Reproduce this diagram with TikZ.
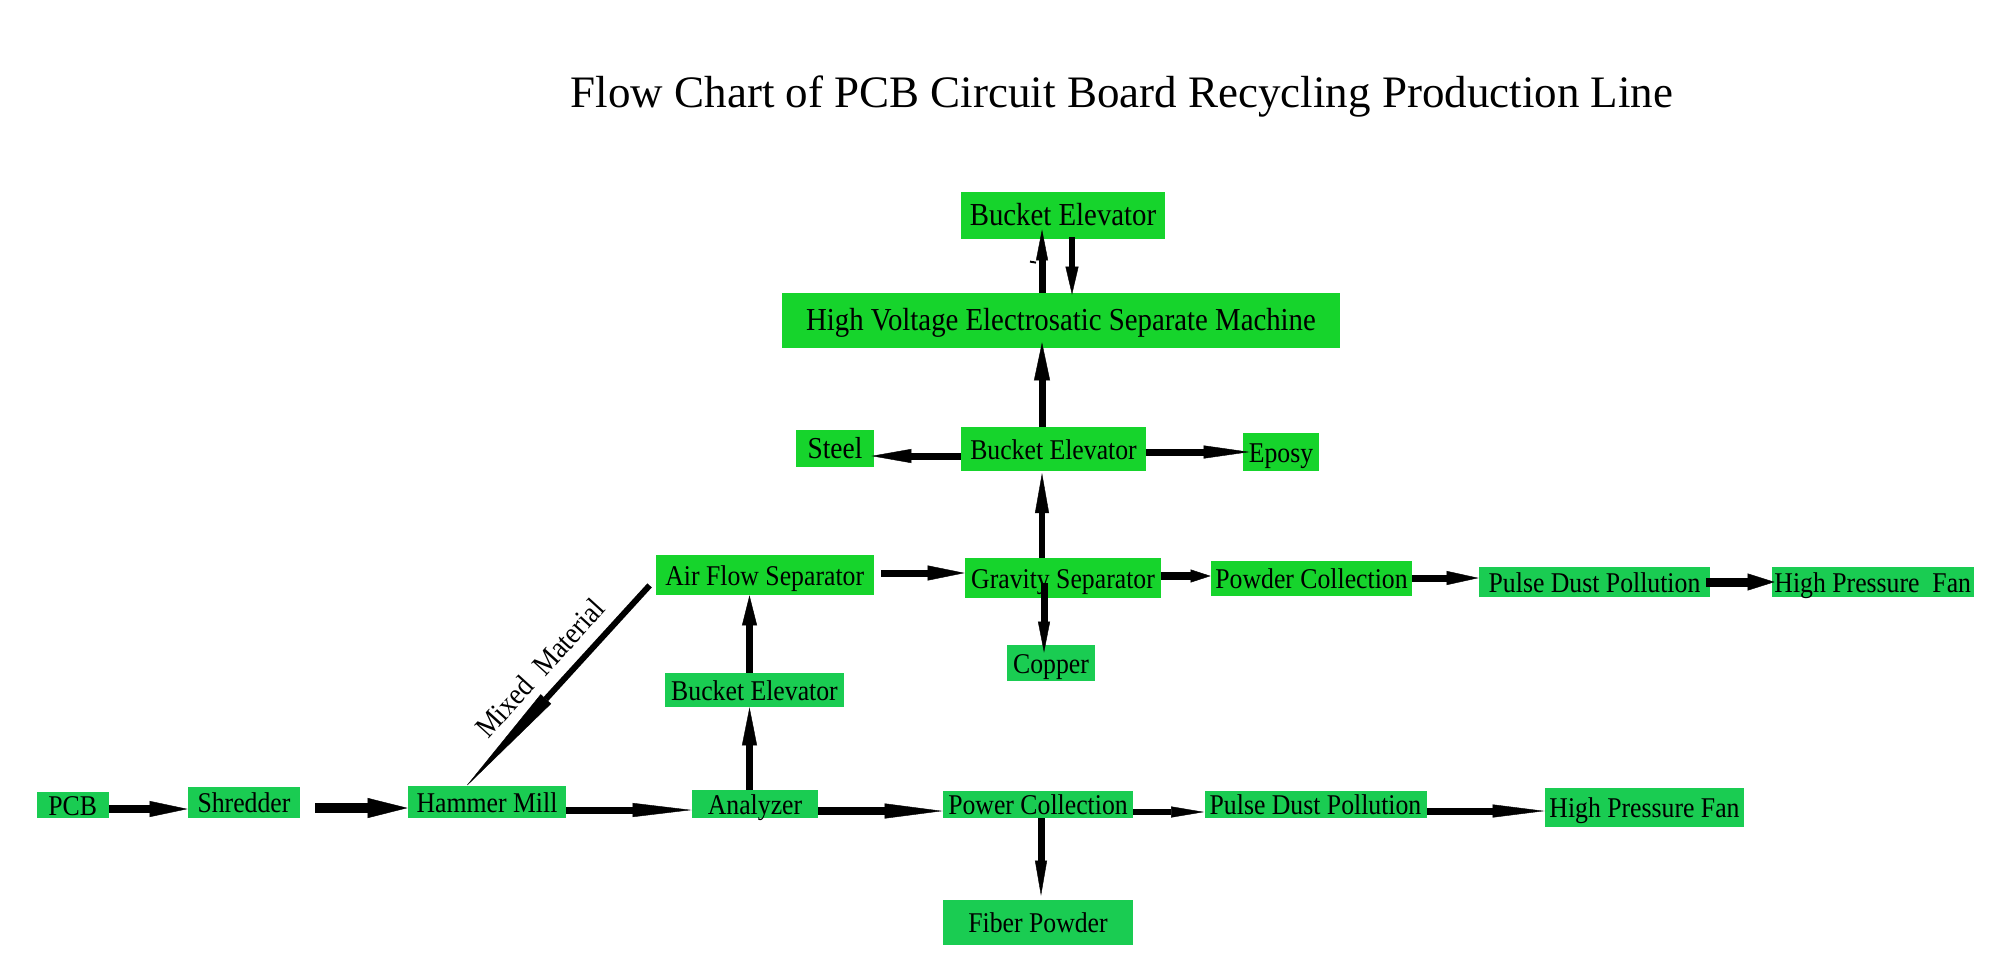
\documentclass[tikz,border=0pt]{standalone}
\usepackage{fontspec}
\setmainfont{Liberation Serif}
\newfontfamily\labfont[FakeStretch=0.9]{Liberation Serif}
\usetikzlibrary{arrows.meta,calc}
\definecolor{gA}{RGB}{22,212,44}
\definecolor{gB}{RGB}{26,204,82}
\tikzset{
  box/.style={inner sep=0pt, text height=10pt, text depth=0pt,
    font=\labfont\fontsize{14.3pt}{16pt}\selectfont},
  boxA/.style={box, fill=gA},
  boxB/.style={box, fill=gB},
  bigtext/.style={font=\labfont\fontsize{16pt}{18pt}\selectfont},
  ar/.style n args={3}{line width=#1pt, -{Triangle[length=#2pt,width=#3pt,line width=0.2pt]}},
}
\begin{document}
\begin{tikzpicture}[x=0.5pt,y=-0.5pt]
\path[use as bounding box, fill=white] (0,0) rectangle (2000,974);
% title
\node[anchor=base, font=\fontsize{22.5pt}{26pt}\selectfont, inner sep=0pt] (title) at (1122,108) {Flow Chart of PCB Circuit Board Recycling Production Line};
% nodes
\node[boxA, bigtext, minimum width=102pt, minimum height=23.5pt] (be1) at (1063,215.5) {Bucket Elevator};
\node[boxA, bigtext, minimum width=279pt, minimum height=27.5pt] (hv) at (1061,320.5) {High Voltage Electrosatic Separate Machine};
\node[boxA, minimum width=39pt, minimum height=18.5pt, font=\labfont\fontsize{15.2pt}{17pt}\selectfont] (steel) at (835,448.5) {Steel};
\node[boxA, minimum width=92.5pt, minimum height=22pt] (be2) at (1053.5,449) {Bucket Elevator};
\node[boxA, minimum width=38pt, minimum height=19pt] (eposy) at (1281,452) {Eposy};
\node[boxA, minimum width=108.75pt, minimum height=20pt] (air) at (764.75,575) {Air Flow Separator};
\node[boxA, minimum width=98pt, minimum height=20pt] (grav) at (1063,578) {Gravity Separator};
\node[boxA, minimum width=100.5pt, minimum height=17.5pt] (powc) at (1311.5,578.5) {Powder Collection};
\node[boxB, minimum width=115.5pt, minimum height=15pt] (pulse1) at (1594.5,582) {Pulse Dust Pollution};
\node[boxB, minimum width=101.25pt, minimum height=15pt] (hpf1) at (1872.75,582) {High Pressure\ \ Fan};
\node[boxB, minimum width=44pt, minimum height=18pt] (copper) at (1051,663) {Copper};
\node[boxB, minimum width=89.5pt, minimum height=17pt] (be3) at (754.5,690) {Bucket Elevator};
\node[boxB, minimum width=35.75pt, minimum height=13pt] (pcb) at (72.75,805) {PCB};
\node[boxB, minimum width=56pt, minimum height=15.5pt] (shred) at (244,802.5) {Shredder};
\node[boxB, minimum width=79pt, minimum height=16pt] (hammer) at (487,802) {Hammer Mill};
\node[boxB, minimum width=63pt, minimum height=14pt] (analyzer) at (755,804) {Analyzer};
\node[boxB, minimum width=95pt, minimum height=13.5pt] (power) at (1038,804.5) {Power Collection};
\node[boxB, minimum width=111pt, minimum height=13.5pt] (pulse2) at (1315.5,804.5) {Pulse Dust Pollution};
\node[boxB, minimum width=99.5pt, minimum height=19.5pt] (hpf2) at (1644.5,807.5) {High Pressure Fan};
\node[boxB, minimum width=95pt, minimum height=22.5pt] (fiber) at (1038,922.5) {Fiber Powder};
% connectors
\draw[ar={4}{19}{8}] ([shift={(0,4)}]pcb.east) -- ([shift={(0,6.5)}]shred.west);
\draw[ar={5}{20}{10}] ([shift={(15,5.5)}]shred.east) -- ([shift={(0,6)}]hammer.west);
\draw[ar={3.5}{29.5}{7}] ([shift={(0,8)}]hammer.east) -- ([shift={(0,6)}]analyzer.west);
\draw[ar={4}{29}{7.5}] ([shift={(0,7)}]analyzer.east) -- ([shift={(0,6.5)}]power.west);
\draw[ar={3}{16.5}{5.5}] ([shift={(0,7.5)}]power.east) -- ([shift={(0,7.5)}]pulse2.west);
\draw[ar={3.5}{26}{6.5}] ([shift={(0,6.5)}]pulse2.east) -- ([shift={(0,3.5)}]hpf2.west);
\draw[ar={3.5}{17.5}{6}] ([shift={(3,0)}]power.south) -- ([shift={(3,-4)}]fiber.north);
\draw[ar={3.75}{19}{7.5}] ([shift={(-5.5,0)}]analyzer.north) -- ([shift={(-5,0)}]be3.south);
\draw[ar={3.75}{15}{7.5}] ([shift={(-5,0)}]be3.north) -- ([shift={(-15.25,0)}]air.south);
\draw[ar={3.5}{18.5}{7.5}] ([shift={(7.5,-2)}]air.east) -- ([shift={(0,-5)}]grav.west);
\draw[ar={4}{10}{6.5}] ([shift={(0,-2)}]grav.east) -- ([shift={(0,-2.5)}]powc.west);
\draw[ar={3.5}{15.5}{6}] ([shift={(-19,5)}]grav.center) -- ([shift={(-7,8)}]copper.north);
\draw[ar={3.3}{20}{7}] ([shift={(-21,0)}]grav.north) -- ([shift={(-11.5,1.7)}]be2.south);
\draw[ar={3.5}{19}{8}] ([shift={(-11.5,0)}]be2.north) -- ([shift={(-19,-6)}]hv.south);
\draw[ar={3.5}{15.5}{6}] ([shift={(-19,0)}]hv.north) -- ([shift={(-21,-10)}]be1.south);
\draw[ar={3}{14}{6.5}] ([shift={(9,-2)}]be1.south) -- ([shift={(11,2)}]hv.north);
\draw[ar={3.5}{20}{7}] ([shift={(0,7)}]be2.west) -- ([shift={(-3,7.5)}]steel.east);
\draw[ar={3.5}{23}{6.5}] ([shift={(0,3)}]be2.east) -- ([shift={(7,0)}]eposy.west);
\draw[ar={3.5}{16}{7}] ([shift={(0,-0.5)}]powc.east) -- ([shift={(0,-4)}]pulse1.west);
\draw[ar={4.5}{13.5}{8.5}] ([shift={(-4,0)}]pulse1.east) -- ([shift={(3.5,0)}]hpf1.west);
\draw[ar={3}{60}{7}] ([shift={(-6,-10)}]air.south west) -- ([shift={(-22,2)}]hammer.north);
\node[rotate=47.7, inner sep=0pt, font=\labfont\fontsize{15pt}{17pt}\selectfont] (mixlabel) at (540,668) {Mixed\ \ Material};
% small stray tick
\draw[line width=1pt] ([shift={(-31,-31)}]hv.north) -- ++(6,1);
\end{tikzpicture}
\end{document}
